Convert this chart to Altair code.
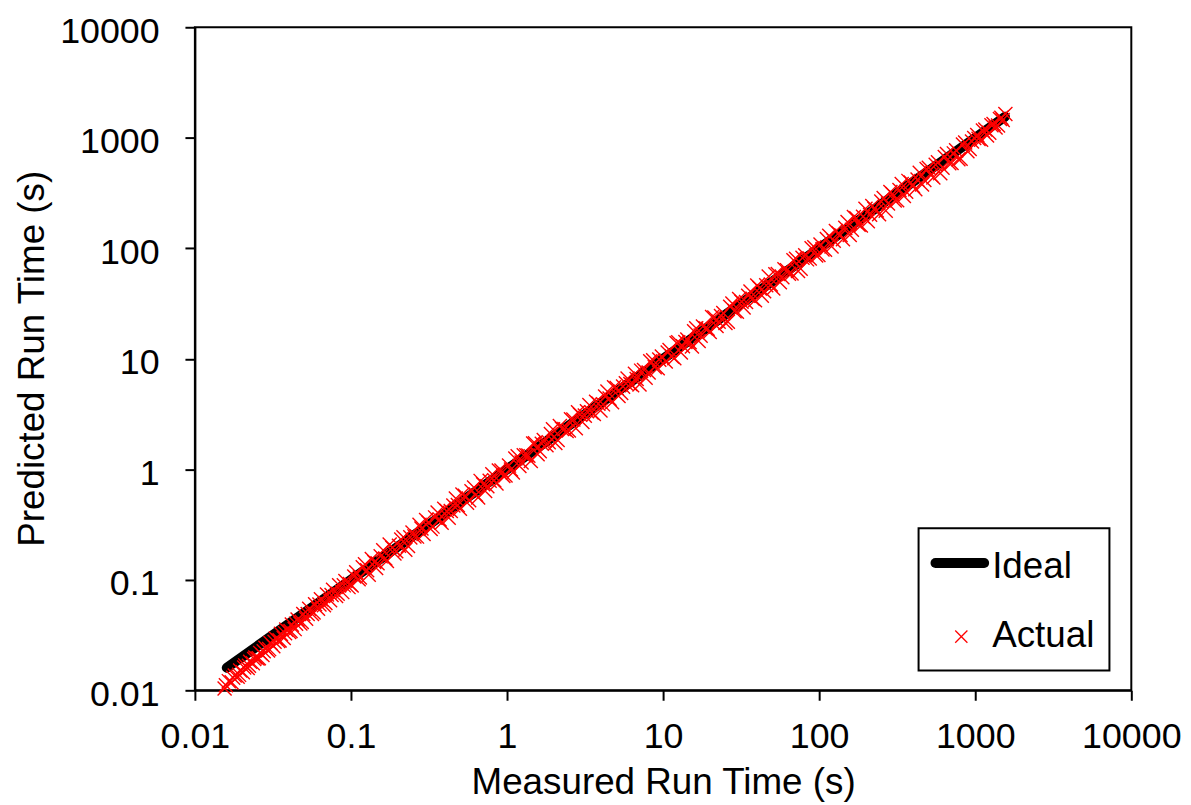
import altair as alt
import pandas as pd

# ---- data ----
measured = [
    0.0155, 0.0165, 0.0172, 0.0180, 0.0188, 0.0195, 0.0203, 0.0210, 0.0218, 0.0226,
    0.0235, 0.0244, 0.0252, 0.0262, 0.0271, 0.0283, 0.0294, 0.0305, 0.0318, 0.0330,
    0.0342, 0.0356, 0.0371, 0.0385, 0.0402, 0.0418, 0.0436, 0.0455, 0.0474, 0.0495,
    0.0516, 0.0540, 0.0563, 0.0589, 0.0615, 0.0642, 0.0671, 0.0702, 0.0735, 0.0768,
    0.0803, 0.0840, 0.0880, 0.0921, 0.0965,
    0.101, 0.108, 0.114, 0.123, 0.130, 0.141, 0.148, 0.161, 0.170, 0.184,
    0.195, 0.210, 0.223, 0.240, 0.255, 0.275, 0.292, 0.314, 0.333, 0.359,
    0.381, 0.411, 0.436, 0.470, 0.499, 0.537, 0.572, 0.615, 0.653, 0.703,
    0.748, 0.805, 0.856, 0.921, 0.978,
    1.03, 1.09, 1.17, 1.24, 1.33, 1.42, 1.51, 1.62, 1.72, 1.85,
    1.97, 2.11, 2.25, 2.41, 2.57, 2.76, 2.94, 3.15, 3.37, 3.60,
    3.85, 4.12, 4.40, 4.71, 5.04, 5.39, 5.77, 6.17, 6.60, 7.06,
    7.55, 8.08, 8.64, 9.24, 9.82,
    10.4, 11.0, 11.8, 12.5, 13.4, 14.3, 15.3, 16.3, 17.4, 18.7,
    19.9, 21.3, 22.7, 24.3, 26.0, 27.8, 29.7, 31.8, 34.0, 36.3,
    38.8, 41.5, 44.4, 47.5, 50.8, 54.3, 58.1, 62.2, 66.5, 71.1,
    76.1, 81.4, 87.0, 93.1, 98.9,
    102, 109, 116, 124, 133, 142, 152, 162, 173, 185,
    198, 212, 226, 242, 259, 276, 295, 316, 338, 361,
    386, 413, 441, 472, 504, 539, 577, 617, 659, 705,
    754, 806, 862, 921, 985,
    1050, 1120, 1190, 1270, 1350, 1440, 1500, 1560,
    # second group of runs
    0.0158, 0.0176, 0.0192, 0.0207, 0.0222, 0.0240, 0.0257, 0.0276, 0.0299, 0.0324,
    0.0349, 0.0378, 0.0410, 0.0445, 0.0484, 0.0528, 0.0576, 0.0628, 0.0686, 0.0751,
    0.0822, 0.0900, 0.0985,
    0.105, 0.112, 0.119, 0.127, 0.136, 0.145, 0.155, 0.166, 0.177, 0.190,
    0.203, 0.217, 0.232, 0.248, 0.265, 0.283, 0.303, 0.324, 0.346, 0.370,
    0.396, 0.423, 0.453, 0.484, 0.518, 0.554, 0.592, 0.633, 0.677, 0.724,
    0.774, 0.828, 0.886, 0.947,
    1.06, 1.13, 1.20, 1.28, 1.37, 1.47, 1.57, 1.67, 1.79, 1.91,
    2.04, 2.18, 2.33, 2.49, 2.66, 2.85, 3.04, 3.25, 3.48, 3.72,
    3.97, 4.25, 4.54, 4.85, 5.18, 5.54, 5.92, 6.33, 6.77, 7.23,
    7.73, 8.27, 8.84, 9.45,
    10.7, 11.4, 12.2, 13.0, 13.9, 14.8, 15.8, 16.9, 18.0, 19.3,
    20.6, 22.0, 23.5, 25.1, 26.9, 28.7, 30.7, 32.8, 35.1, 37.5,
    40.1, 42.9, 45.8, 49.0, 52.4, 56.0, 59.9, 64.0, 68.4, 73.2,
    78.2, 83.6, 89.4, 95.6,
    105, 112, 120, 128, 137, 147, 157, 167, 179, 191,
    205, 219, 234, 250, 267, 286, 305, 327, 349, 373,
    399, 427, 456, 488, 522, 558, 597, 638, 682, 729,
    780, 834, 891, 953,
    1030, 1090, 1160, 1230, 1310, 1400, 1470,
]
predicted = [
    0.0104, 0.0121, 0.0118, 0.0136, 0.0133, 0.0151, 0.0146, 0.0168, 0.0159, 0.0181,
    0.0176, 0.0198, 0.0194, 0.0218, 0.0209, 0.0243, 0.0229, 0.0268, 0.0251, 0.0294,
    0.0280, 0.0324, 0.0297, 0.0354, 0.0338, 0.0393, 0.0358, 0.0437, 0.0403, 0.0490,
    0.0444, 0.0546, 0.0490, 0.0601, 0.0547, 0.0667, 0.0590, 0.0737, 0.0654, 0.0814,
    0.0715, 0.0891, 0.0774, 0.0976, 0.0859,
    0.0889, 0.117, 0.105, 0.138, 0.111, 0.145, 0.141, 0.185, 0.148, 0.195,
    0.181, 0.231, 0.187, 0.242, 0.247, 0.314, 0.260, 0.330, 0.303, 0.406,
    0.328, 0.419, 0.419, 0.545, 0.439, 0.575, 0.526, 0.683, 0.555, 0.731,
    0.703, 0.902, 0.745, 0.976, 0.880,
    1.08, 0.937, 1.31, 1.15, 1.34, 1.19, 1.72, 1.46, 1.84, 1.76,
    2.30, 1.84, 2.32, 2.22, 2.83, 2.35, 3.12, 3.06, 3.81, 3.17,
    3.93, 3.87, 5.06, 4.05, 5.44, 4.90, 6.00, 5.92, 7.33, 5.86,
    7.93, 7.51, 9.68, 8.22, 10.5,
    9.46, 12.0, 10.1, 14.1, 13.0, 14.9, 12.9, 18.9, 16.2, 18.9,
    17.5, 23.6, 21.6, 26.0, 21.6, 31.7, 26.7, 32.8, 32.6, 40.7,
    33.8, 43.6, 40.8, 55.6, 43.2, 58.6, 54.6, 63.4, 59.2, 80.3,
    65.4, 86.3, 80.9, 102, 87.0,
    108, 97.0, 130, 117, 137, 121, 173, 147, 187, 161,
    228, 201, 228, 203, 285, 254, 310, 272, 382, 325,
    394, 343, 481, 415, 534, 437, 600, 537, 712, 592,
    769, 645, 905, 792, 995,
    977, 1160, 1050, 1300, 1240, 1480, 1450, 1640,
    # second group of runs
    0.0111, 0.0130, 0.0138, 0.0161, 0.0167, 0.0192, 0.0195, 0.0226, 0.0236, 0.0275,
    0.0283, 0.0329, 0.0344, 0.0401, 0.0416, 0.0491, 0.0507, 0.0597, 0.0617, 0.0728,
    0.0748, 0.0891, 0.0916,
    0.107, 0.101, 0.130, 0.122, 0.154, 0.128, 0.163, 0.156, 0.209, 0.173,
    0.203, 0.243, 0.202, 0.268, 0.246, 0.291, 0.348, 0.288, 0.367, 0.352,
    0.440, 0.364, 0.471, 0.474, 0.591, 0.499, 0.633, 0.589, 0.785, 0.637,
    0.789, 0.795, 0.975, 0.871,
    0.996, 1.25, 1.07, 1.34, 1.33, 1.71, 1.37, 1.70, 1.65, 2.08,
    1.73, 2.46, 2.31, 2.24, 2.82, 3.28, 2.68, 3.35, 3.27, 4.09,
    3.41, 4.55, 4.36, 5.53, 4.61, 5.60, 6.63, 5.76, 6.57, 7.81,
    6.73, 9.51, 8.40, 9.83,
    11.4, 10.5, 13.9, 11.4, 14.2, 14.1, 17.7, 14.5, 19.6, 18.7,
    23.9, 19.8, 24.4, 21.1, 29.6, 27.0, 34.7, 29.2, 37.2, 34.9,
    46.1, 37.3, 46.3, 47.0, 58.2, 49.3, 64.7, 58.9, 78.0, 62.2,
    82.1, 79.4, 100, 86.0,
    97.7, 121, 104, 143, 132, 153, 132, 192, 163, 193,
    176, 241, 220, 265, 219, 323, 271, 337, 297, 407,
    367, 418, 378, 522, 459, 569, 478, 670, 587, 722,
    640, 867, 757, 924,
    1060, 960, 1190, 1110, 1330, 1290, 1520,
]
ideal_measured = [0.016, 1550]
ideal_predicted = [0.016, 1550]
tick_values = [0.01, 0.1, 1, 10, 100, 1000, 10000]
series_names = ["Ideal", "Actual"]
x_title = "Measured Run Time (s)"
y_title = "Predicted Run Time (s)"

FONT = "Liberation Sans, Arial, sans-serif"
X_SHAPE = "M-1,-1L1,1M1,-1L-1,1"

pts = pd.DataFrame({"measured": measured, "predicted": predicted})
ideal = pd.DataFrame({"measured": ideal_measured, "predicted": ideal_predicted})
one = pd.DataFrame({"k": [0]})

xscale = alt.Scale(type="log", domain=[0.01, 10000], nice=False)
yscale = alt.Scale(type="log", domain=[0.01, 10000], nice=False)

common_axis = dict(
    values=tick_values, format="~g", grid=False,
    domainColor="black", domainWidth=2,
    tickColor="black", tickWidth=2, tickSize=10,
    labelFont=FONT, labelFontSize=36, labelColor="black",
    labelOverlap=False, labelFlush=False,
    titleFont=FONT, titleFontSize=37, titleFontWeight="normal", titleColor="black",
    titleBaseline="alphabetic", titleAlign="center",
)
xaxis = alt.Axis(title=x_title, labelPadding=20, titleX=471, titleY=104, **common_axis)
yaxis = alt.Axis(title=y_title, labelPadding=26, labelOffset=4, titleAngle=270,
                 titleX=-152, titleY=333, **common_axis)

X = alt.X("measured:Q", scale=xscale, axis=xaxis)
Y = alt.Y("predicted:Q", scale=yscale, axis=yaxis)

ideal_line = alt.Chart(ideal).mark_line(
    color="black", strokeWidth=10, strokeCap="round"
).encode(x=X, y=Y)

actual_pts = alt.Chart(pts).mark_point(
    shape=X_SHAPE, color="red", filled=False, size=200, strokeWidth=1.4, opacity=1
).encode(x=X, y=Y)

legend_box = alt.Chart(one).mark_rect(
    fill="white", stroke="black", strokeWidth=2
).encode(x=alt.value(728), x2=alt.value(920), y=alt.value(504), y2=alt.value(647))

legend_line = alt.Chart(one).mark_rule(
    color="black", strokeWidth=10, strokeCap="round"
).encode(x=alt.value(745), x2=alt.value(794), y=alt.value(539))

legend_x = alt.Chart(one).mark_point(
    shape=X_SHAPE, color="red", filled=False, size=150, strokeWidth=1.3, opacity=1
).encode(x=alt.value(771), y=alt.value(613))

legend_t1 = alt.Chart(one).mark_text(
    text=series_names[0], font=FONT, fontSize=37, color="black",
    align="left", baseline="alphabetic"
).encode(x=alt.value(802), y=alt.value(554))

legend_t2 = alt.Chart(one).mark_text(
    text=series_names[1], font=FONT, fontSize=37, color="black",
    align="left", baseline="alphabetic"
).encode(x=alt.value(802), y=alt.value(623))

chart = alt.layer(
    ideal_line, actual_pts, legend_box, legend_line, legend_x, legend_t1, legend_t2
).properties(
    width=942, height=667,
    autosize=alt.AutoSizeParams(type="none"),
    padding={"left": 188, "top": 17, "right": 52, "bottom": 113},
    background="white",
).configure_view(stroke="black", strokeWidth=2)

chart.save("out.html", embed_options={"renderer": "svg", "actions": False})
